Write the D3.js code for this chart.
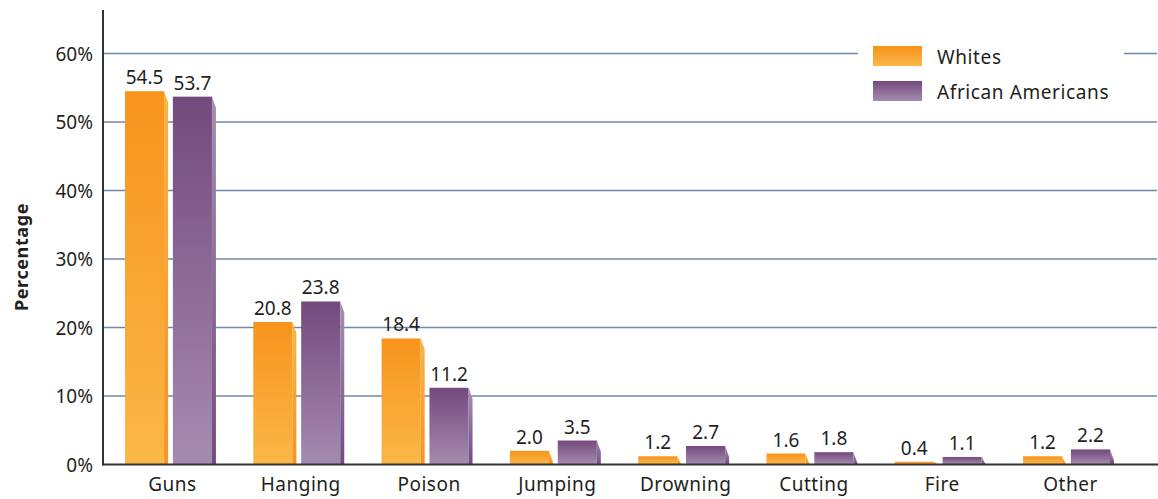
<!DOCTYPE html>
<html>
<head>
<meta charset="utf-8">
<script src="https://cdn.jsdelivr.net/npm/d3@7"></script>
<style>
  body { margin: 0; background: #fff; }
  text { font-family: "Noto Sans", Lato, sans-serif; fill: #231f20; }
</style>
</head>
<body>
<div id="chart"></div>
<script>
// data
const categories = ["Guns", "Hanging", "Poison", "Jumping", "Drowning", "Cutting", "Fire", "Other"];
const seriesNames = ["Whites", "African Americans"];
const whites = [54.5, 20.8, 18.4, 2.0, 1.2, 1.6, 0.4, 1.2];
const africanAmericans = [53.7, 23.8, 11.2, 3.5, 2.7, 1.8, 1.1, 2.2];
const yTicks = [0, 10, 20, 30, 40, 50, 60];

const W = 1158, H = 499;
const axisX = 103, baseY = 464.5, topY = 53.5;

const svg = d3.select("#chart")
  .append("svg")
  .attr("width", W)
  .attr("height", H);

const defs = svg.append("defs");
function vgrad(id, top, bottom) {
  const g = defs.append("linearGradient").attr("id", id)
    .attr("x1", 0).attr("y1", 0).attr("x2", 0).attr("y2", 1);
  g.append("stop").attr("offset", "0%").attr("stop-color", top);
  g.append("stop").attr("offset", "100%").attr("stop-color", bottom);
}
vgrad("orangeFront", "#f7941d", "#fbb749");
vgrad("orangeSide", "#fbb445", "#f7941d");
vgrad("purpleFront", "#734a7d", "#a68bb0");
vgrad("purpleSide", "#a88fb3", "#744b80");

const fills = [
  {front: "url(#orangeFront)", side: "url(#orangeSide)"},
  {front: "url(#purpleFront)", side: "url(#purpleSide)"}
];

// scales
const x = d3.scaleBand()
  .domain(categories)
  .range([axisX, 1136])
  .paddingInner(0.291)
  .paddingOuter(0.1715);

const x1 = d3.scaleBand()
  .domain(seriesNames)
  .range([0, x.bandwidth()])
  .paddingInner(0.1);

const y = d3.scaleLinear()
  .domain([0, 60])
  .range([baseY, topY]);

// gridlines
svg.append("g")
  .selectAll("line")
  .data(yTicks.filter(d => d > 0))
  .join("line")
    .attr("x1", axisX)
    .attr("x2", 1157)
    .attr("y1", d => y(d))
    .attr("y2", d => y(d))
    .attr("stroke", "#7088aa")
    .attr("stroke-width", 1.6);

// y tick labels
svg.append("g")
  .selectAll("text")
  .data(yTicks)
  .join("text")
    .attr("x", 93)
    .attr("y", d => y(d) + 7)
    .attr("text-anchor", "end")
    .style("font-size", "19px")
    .text(d => d + "%");

// y title
svg.append("text")
  .attr("transform", "translate(28,257)rotate(-90)")
  .attr("text-anchor", "middle")
  .style("font-size", "18px")
  .style("font-weight", "bold")
  .style("letter-spacing", "0.6px")
  .text("Percentage");

// bars
const rows = categories.map((c, i) => ({cat: c, vals: [whites[i], africanAmericans[i]]}));
const sideW = 4;
const groups = svg.append("g")
  .selectAll("g")
  .data(rows)
  .join("g")
    .attr("transform", d => `translate(${x(d.cat)},0)`);

const bars = groups.selectAll("g")
  .data(d => d.vals.map((v, k) => ({name: seriesNames[k], k: k, v: v})))
  .join("g");

bars.append("rect")
  .attr("x", d => x1(d.name))
  .attr("y", d => y(d.v))
  .attr("width", x1.bandwidth() - sideW)
  .attr("height", d => baseY - y(d.v))
  .attr("fill", d => fills[d.k].front);

bars.append("polygon")
  .attr("points", d => {
    const xr = x1(d.name) + x1.bandwidth() - sideW;
    const t = y(d.v);
    const h = baseY - t;
    return [[xr, t], [xr + sideW, t + Math.min(11, h)], [xr + sideW, baseY], [xr, baseY]].join(" ");
  })
  .attr("fill", d => fills[d.k].side);

bars.append("text")
  .attr("x", d => x1(d.name) + (x1.bandwidth() - sideW) / 2)
  .attr("y", d => y(d.v) - 7)
  .attr("text-anchor", "middle")
  .style("font-size", "19px")
  .text(d => d.v.toFixed(1));

// axes lines
svg.append("line")
  .attr("x1", axisX).attr("x2", axisX)
  .attr("y1", 10).attr("y2", baseY + 1)
  .attr("stroke", "#333").attr("stroke-width", 2);
svg.append("line")
  .attr("x1", axisX).attr("x2", W)
  .attr("y1", baseY).attr("y2", baseY)
  .attr("stroke", "#333").attr("stroke-width", 2);

// x labels
svg.append("g")
  .selectAll("text")
  .data(categories)
  .join("text")
    .attr("x", d => x(d) + x.bandwidth() / 2 + 2)
    .attr("y", 491)
    .attr("text-anchor", "middle")
    .style("font-size", "19px")
    .style("letter-spacing", "0.5px")
    .text(d => d);

// legend
const legend = svg.append("g");
legend.append("rect")
  .attr("x", 858).attr("y", 40).attr("width", 266).attr("height", 70)
  .attr("fill", "#fff");
const legendItems = legend.selectAll("g")
  .data(seriesNames)
  .join("g")
    .attr("transform", (d, i) => `translate(873,${46 + i * 35})`);
legendItems.append("rect")
  .attr("width", 49).attr("height", 20)
  .attr("fill", (d, i) => fills[i].front);
legendItems.append("text")
  .attr("x", 64).attr("y", 18)
  .style("font-size", "19px")
  .style("letter-spacing", "0.6px")
  .text(d => d);
</script>
</body>
</html>
